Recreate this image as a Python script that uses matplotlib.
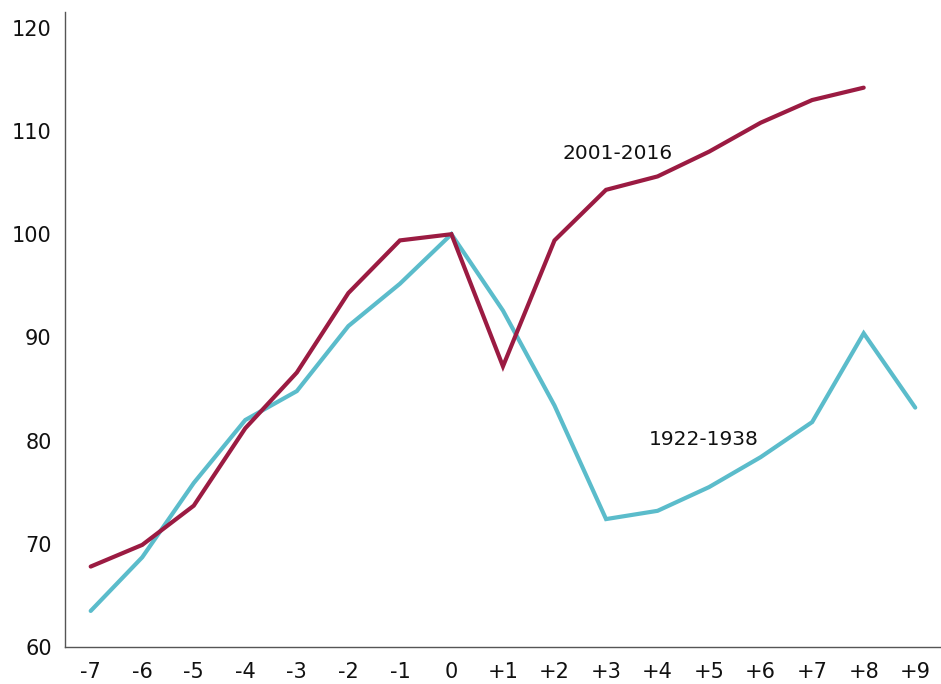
import numpy as np
import matplotlib.pyplot as plt

# años relativos al pico
labels = ['-7', '-6', '-5', '-4', '-3', '-2', '-1', '0',
          '+1', '+2', '+3', '+4', '+5', '+6', '+7', '+8', '+9']
x = np.arange(-7, 10)

# 2001-2016 (no hay dato en +9)
serie_2001 = [67.8, 69.9, 73.7, 81.2, 86.6, 94.3, 99.4, 100.0,
              87.2, 99.4, 104.3, 105.6, 108.0, 110.8, 113.0, 114.2]
# 1922-1938
serie_1922 = [63.5, 68.7, 75.9, 82.0, 84.8, 91.1, 95.2, 100.0,
              92.6, 83.4, 72.4, 73.2, 75.5, 78.4, 81.8, 90.4, 83.2]

rojo = '#9b1b42'
azul = '#5bbccb'

fig = plt.figure(figsize=(9.41, 6.84), dpi=100)
ax = fig.add_axes([0.069, 0.054, 0.931, 0.928])

ax.plot(x, serie_1922, color=azul, lw=3, solid_capstyle='round', solid_joinstyle='miter')
ax.plot(x[:len(serie_2001)], serie_2001, color=rojo, lw=3, solid_capstyle='round', solid_joinstyle='miter')

ax.text(3.23, 107.8, '2001-2016', fontsize=14.5, ha='center', va='center', color='#111111')
ax.text(4.9, 80.1, '1922-1938', fontsize=14.5, ha='center', va='center', color='#111111')

ax.set_xlim(-7.5, 9.5)
ax.set_ylim(60, 121.5)
ax.set_yticks(np.arange(60, 121, 10))
ax.set_xticks(x)
ax.set_xticklabels(labels)
ax.tick_params(length=0, labelsize=15, colors='#111111')
ax.tick_params(axis='y', pad=9.5)
ax.tick_params(axis='x', pad=11)

for s in ['top', 'right']:
    ax.spines[s].set_visible(False)
for s in ['left', 'bottom']:
    ax.spines[s].set_color('#555555')
    ax.spines[s].set_linewidth(1)

fig.savefig('out.png', dpi=100)
